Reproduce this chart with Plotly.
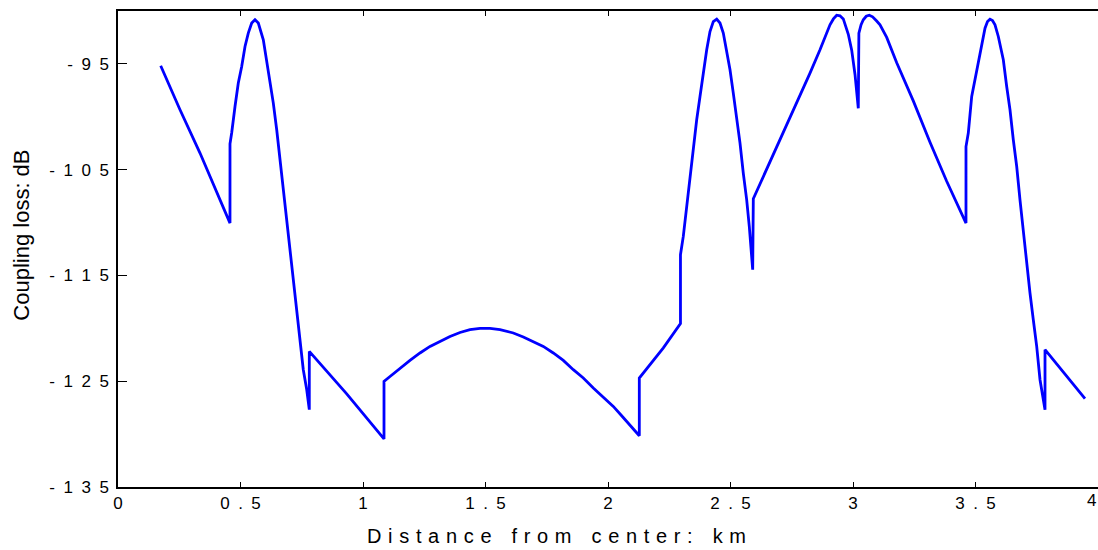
import plotly.graph_objects as go

# Distance from center (km) and coupling loss (dB), per piece of the curve
x_seg1 = [0.1743, 0.2531, 0.3347, 0.4029, 0.4571]
y_seg1 = [-95.18, -99.34, -103.43, -107.21, -110.05]

x_seg2 = [0.4571, 0.4641, 0.4776, 0.4910, 0.5049, 0.5184, 0.5318, 0.5457, 0.5592, 0.5727,
          0.5931, 0.6069, 0.6204, 0.6339, 0.6478, 0.6612, 0.6747, 0.6886, 0.7020, 0.7155,
          0.7294, 0.7429, 0.7563, 0.7702, 0.7808]
y_seg2 = [-102.55, -101.51, -99.03, -96.81, -95.25, -93.36, -92.09, -91.14, -90.83, -91.14,
          -92.72, -94.61, -96.50, -98.71, -101.23, -104.06, -106.90, -109.73, -112.57, -115.40,
          -118.24, -120.77, -123.91, -125.79, -127.69]

x_seg3 = [0.7808, 0.9335, 1.0857]
y_seg3 = [-122.18, -126.20, -130.46]

x_seg4 = [1.0857, 1.1102, 1.151, 1.1918, 1.2327, 1.2735, 1.3143, 1.3551, 1.3959, 1.4367,
          1.4776, 1.5184, 1.5592, 1.6135, 1.6543, 1.6951, 1.7359, 1.7767, 1.8176, 1.8584,
          1.8992, 1.94, 1.9808, 2.0216, 2.0558, 2.0898, 2.1278]
y_seg4 = [-125.02, -124.55, -123.75, -123.03, -122.33, -121.71, -121.24, -120.77, -120.39, -120.13,
          -120.01, -120.01, -120.13, -120.44, -120.82, -121.24, -121.71, -122.33, -123.03, -123.91,
          -124.70, -125.64, -126.49, -127.38, -128.26, -129.11, -130.15]

x_seg5 = [2.1278, 2.2259, 2.2958]
y_seg5 = [-124.70, -121.85, -119.55]

x_seg6 = [2.2958, 2.3073, 2.3212, 2.3347, 2.3482, 2.362, 2.3755, 2.389, 2.4029, 2.4163,
          2.4298, 2.4437, 2.4571, 2.4706, 2.4845, 2.498, 2.5114, 2.5253, 2.5388, 2.5522,
          2.5661, 2.5767, 2.5906]
y_seg6 = [-113.04, -111.31, -108.48, -105.64, -102.81, -100.28, -98.08, -95.87, -93.67, -91.94,
          -91.00, -90.77, -91.14, -92.09, -93.67, -95.56, -97.76, -99.97, -102.49, -105.32,
          -107.85, -110.37, -114.46]

x_seg7 = [2.5931, 2.6884, 2.7837, 2.8245, 2.8653, 2.8900, 2.9061, 2.9200, 2.9335, 2.9470,
          2.9604, 2.9808, 2.9947, 3.0082, 3.0216]
y_seg7 = [-107.75, -102.90, -98.08, -95.87, -93.67, -92.2, -91.3, -90.75, -90.40, -90.45,
          -90.75, -92.2, -93.7, -96.0, -99.2]

x_seg8 = [3.0240, 3.0330, 3.0420, 3.0540, 3.0665, 3.0800, 3.0967, 3.1102, 3.1376, 3.1784,
          3.2461, 3.3143, 3.3824, 3.4612]
y_seg8 = [-92.1, -91.3, -90.83, -90.5, -90.4, -90.55, -90.95, -91.3, -92.5, -94.9,
          -98.5, -102.4, -106.1, -110.05]

x_seg9 = [3.4612, 3.4706, 3.4845, 3.498, 3.5114, 3.5253, 3.5388, 3.5490, 3.5592, 3.5694,
          3.5796, 3.5931, 3.6135, 3.6273, 3.6408, 3.6543, 3.6682, 3.6816, 3.6951, 3.709,
          3.7224, 3.7359, 3.7498, 3.7633, 3.7767, 3.7837]
y_seg9 = [-102.81, -101.54, -98.08, -96.50, -94.61, -93.03, -91.62, -91.0, -90.77, -90.9,
          -91.30, -92.41, -94.61, -97.14, -99.34, -102.17, -104.70, -107.85, -110.99, -113.83,
          -116.66, -119.19, -121.71, -124.86, -126.75, -127.69]

x_seg10 = [3.7837, 3.9469]
y_seg10 = [-122.02, -126.65]

x_tick_vals = [0, 0.5, 1, 1.5, 2, 2.5, 3, 3.5, 4]
x_tick_text = ["0", "0.5", "1", "1.5", "2", "2.5", "3", "3.5", "4"]
y_tick_vals = [-135, -125, -115, -105, -95]
y_tick_text = ["-135", "-125", "-115", "-105", "-95"]
x_title = "Distance from center: km"
y_title = "Coupling loss: dB"

EN = "\u2002"
def spaced(s, gap=EN):
    return gap.join(list(s))

def spaced_title(s):
    words = s.split(" ")
    return "\u2003".join("\u2004".join(list(w)) for w in words)

xs = x_seg1 + x_seg2 + x_seg3 + x_seg4 + x_seg5 + x_seg6 + x_seg7 + x_seg8 + x_seg9 + x_seg10
ys = y_seg1 + y_seg2 + y_seg3 + y_seg4 + y_seg5 + y_seg6 + y_seg7 + y_seg8 + y_seg9 + y_seg10

fig = go.Figure()
fig.add_trace(go.Scatter(x=xs, y=ys, mode="lines",
                         line=dict(color="#0000ff", width=2.8), showlegend=False))

FONT = "Liberation Sans, Arial, sans-serif"
x_ticktext = [spaced(t) for t in x_tick_text[:-1]] + [""]
fig.update_layout(
    width=1098, height=550,
    margin=dict(l=118, r=0, t=11, b=63),
    paper_bgcolor="white", plot_bgcolor="white",
    font=dict(family=FONT, color="black"),
    xaxis=dict(range=[0, 4], tickvals=x_tick_vals, ticktext=x_ticktext,
               ticks="inside", ticklen=5, tickwidth=1, tickcolor="black",
               showline=True, linecolor="black", linewidth=1.5, mirror="ticks",
               showgrid=False, zeroline=False, tickfont=dict(size=17, family=FONT),
               ticklabelstandoff=0),
    yaxis=dict(range=[-135, -90], tickvals=y_tick_vals, ticktext=[spaced(t) for t in y_tick_text],
               ticks="inside", ticklen=9, tickwidth=1, tickcolor="black",
               showline=True, linecolor="black", linewidth=1.5, mirror=False,
               showgrid=False, zeroline=False, tickfont=dict(size=17, family=FONT),
               ticklabelstandoff=4),
    yaxis2=dict(range=[-135, -90], overlaying="y", side="right", tickvals=y_tick_vals,
                showticklabels=False, ticks="inside", ticklen=9, tickwidth=1, tickcolor="black",
                showline=False, showgrid=False, zeroline=False),
    annotations=[
        dict(text=spaced_title(x_title), xref="paper", yref="paper", x=0.447, y=-0.102,
             xanchor="center", yanchor="middle", showarrow=False,
             font=dict(size=20, family=FONT, color="black")),
        dict(text=y_title, xref="paper", yref="paper", x=-0.098, y=0.53,
             xanchor="center", yanchor="middle", textangle=-90, showarrow=False,
             font=dict(size=22, family=FONT, color="black")),
        # the "4" tick label at the right edge, kept inside the picture
        dict(text=x_tick_text[-1], xref="x", yref="paper", x=x_tick_vals[-1], y=0,
             xanchor="right", yanchor="top", yshift=-2, showarrow=False,
             font=dict(size=17, family=FONT, color="black")),
    ],
)

fig.write_html("out.html", config={"displayModeBar": False},
               post_script="document.body.style.margin='0';")
